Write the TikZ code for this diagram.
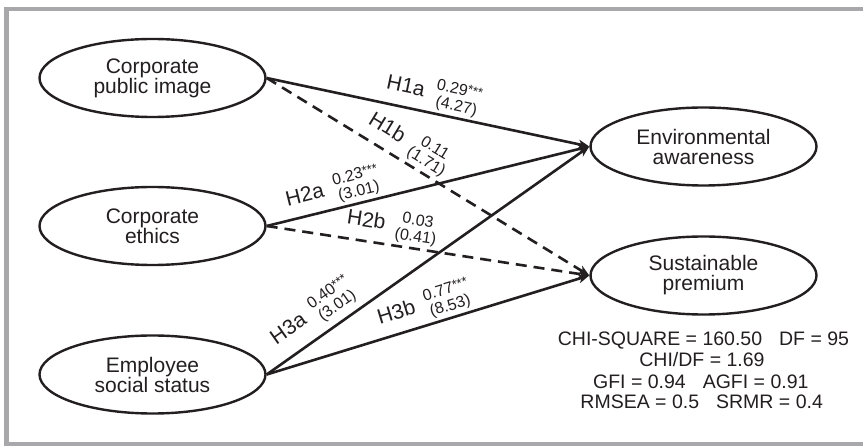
\documentclass[tikz,border=0pt]{standalone}
\usepackage{fontspec}
\setmainfont{Liberation Sans}
\usetikzlibrary{shapes.geometric,arrows.meta}
\definecolor{ink}{RGB}{35,31,32}
\definecolor{framegray}{RGB}{168,168,170}
\newcommand{\sigstars}{\raisebox{2.5pt}{\fontsize{13}{13}\selectfont ***}}
\newcommand{\hlab}[3]{#1\hspace{11pt}{\fontsize{16}{16}\selectfont\begin{tabular}{@{}c@{}}#2\\(#3)\end{tabular}}}
\begin{document}
\begin{tikzpicture}[x=1pt,y=-1pt,
  latent/.style={ellipse, draw=ink, line width=2.4pt, minimum width=226pt, minimum height=78pt,
    inner sep=0pt, align=center, font=\fontsize{21}{20}\selectfont, text=ink},
  sig/.style={draw=ink, line width=2.6pt, -{Stealth[length=11pt,width=9pt,inset=3pt]}},
  nsig/.style={sig, dash pattern=on 11pt off 7pt},
  hl/.style={sloped, above, inner sep=1pt, font=\fontsize{21}{20}\selectfont, text=ink},
  stat/.style={anchor=base, font=\fontsize{19.5}{21}\selectfont, text=ink, inner sep=0pt}]

\useasboundingbox (0,0) rectangle (863,446);
\fill[white] (0,0) rectangle (863,446);
\draw[framegray, line width=4.3pt] (875,8.8) -| (6.5,444.5) -- (875,444.5);

\node[latent] (cpi) at (152.5,78) {Corporate\\public image};
\node[latent] (ce) at (152.5,226) {Corporate\\ethics};
\node[latent] (ess) at (152.5,374.5) {Employee\\social status};
\node[latent] (ea) at (703.5,146.5) {Environmental\\awareness};
\node[latent] (sp) at (703.5,275.5) {Sustainable\\premium};

\draw[sig] (cpi.east) -- node[hl,pos=0.505] (l1a) {\hlab{H1a}{0.29\sigstars}{4.27}} (ea.west);
\draw[nsig] (cpi.east) -- node[hl,pos=0.41] (l1b) {\hlab{H1b}{0.11}{1.71}} (sp.west);
\draw[sig] (ce.east) -- node[hl,pos=0.22] (l2a) {\hlab{H2a}{0.23\sigstars}{3.01}} (ea.west);
\draw[nsig] (ce.east) -- node[hl,pos=0.38] (l2b) {\hlab{H2b}{0.03}{0.41}} (sp.west);
\draw[sig] (ess.east) -- node[hl,pos=0.184,above=4pt] (l3a) {\hlab{H3a}{0.40\sigstars}{3.01}} (ea.west);
\draw[sig] (ess.east) -- node[hl,pos=0.506] (l3b) {\hlab{H3b}{0.77\sigstars}{8.53}} (sp.west);

\node[stat] (s1) at (703.5,345.7) {CHI-SQUARE = 160.50\hspace{17pt}DF = 95};
\node[stat] (s2) at (702,366.7) {CHI/DF = 1.69};
\node[stat] (s3) at (700.8,389) {GFI = 0.94\hspace{17pt}AGFI = 0.91};
\node[stat] (s4) at (701.7,409) {RMSEA = 0.5\hspace{17pt}SRMR = 0.4};
\end{tikzpicture}
\end{document}
